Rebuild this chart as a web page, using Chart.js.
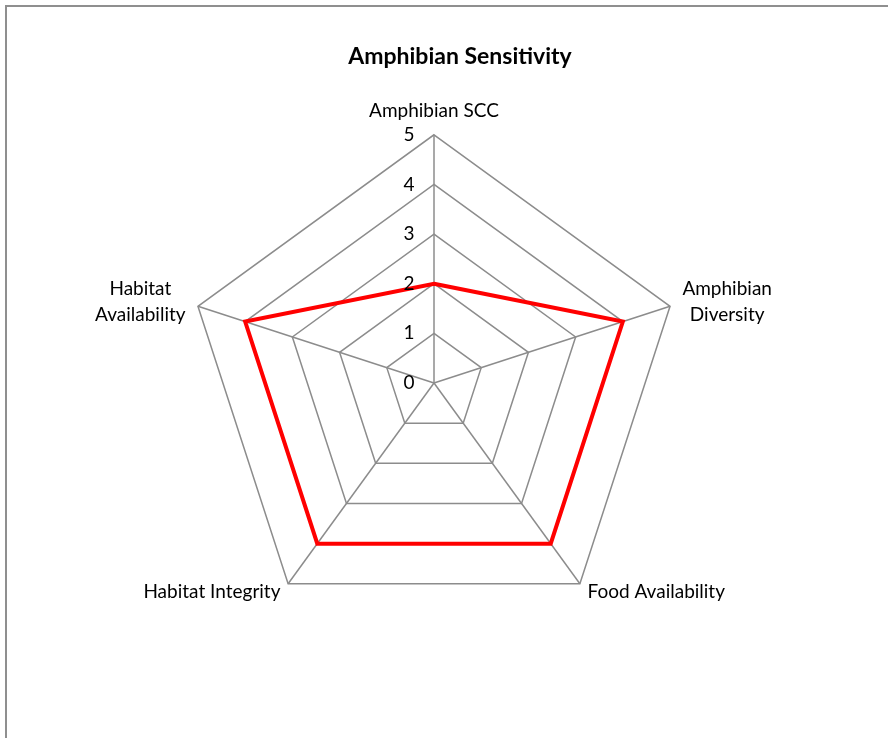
<!DOCTYPE html>
<html><head><meta charset="utf-8">
<script src="https://cdn.jsdelivr.net/npm/chart.js@4"></script>
<style>
html,body{margin:0;padding:0;background:#fff;}
#wrap{position:relative;width:888px;height:738px;overflow:hidden;}
#frame{position:absolute;left:5px;top:5px;right:-5px;bottom:-5px;border-left:2px solid #8f8f8f;border-top:2px solid #8f8f8f;}
canvas{position:absolute;left:0;top:0;}
</style></head>
<body><div id="wrap"><div id="frame"></div><canvas id="c" width="888" height="738"></canvas></div>
<script>
const categories = ['Amphibian SCC', ['Amphibian', 'Diversity'], 'Food Availability', 'Habitat Integrity', ['Habitat', 'Availability']];
const sensitivity = [2, 4, 4, 4, 4];
const tickValues = [0, 1, 2, 3, 4, 5];
const chartTitle = 'Amphibian Sensitivity';

const FONT = 'Lato, "Open Sans", sans-serif';

// Tick labels 0..5 to the left of the vertical axis (Excel style)
const tickPlugin = {
  id: 'tickLabels',
  afterDraw(chart) {
    const s = chart.scales.r, ctx = chart.ctx;
    ctx.save();
    ctx.font = '19px ' + FONT;
    ctx.fillStyle = '#000';
    ctx.textAlign = 'center';
    ctx.textBaseline = 'middle';
    tickValues.forEach(v => {
      const d = s.getDistanceFromCenterForValue(v);
      ctx.fillText(String(v), s.xCenter - 25, s.yCenter - d);
    });
    ctx.restore();
  }
};

// Excel-like label placement: side labels centered on their spoke, bottom labels raised
const labelPlugin = {
  id: 'labelPlacement',
  afterLayout(chart) {
    const s = chart.scales.r;
    const items = s._pointLabelItems || [];
    items.forEach((item, i) => {
      if (Array.isArray(categories[i])) {
        const h = item.bottom - item.top;
        item.y += h / 2; item.top += h / 2; item.bottom += h / 2;
        item.x = (item.left + item.right) / 2;
        item.textAlign = 'center';
      } else if (i > 0) {
        item.y -= 14; item.top -= 14; item.bottom -= 14;
      }
    });
    const t = chart.titleBlock;
    if (t) { t.left += 26; t.right += 26; }
  }
};

new Chart(document.getElementById('c'), {
  type: 'radar',
  data: {
    labels: categories,
    datasets: [{
      data: sensitivity,
      borderColor: '#ff0000',
      borderWidth: 4,
      fill: false,
      pointRadius: 0,
      pointHoverRadius: 0,
      tension: 0
    }]
  },
  options: {
    responsive: false,
    animation: false,
    layout: { padding: { left: 0, right: 20, top: 0, bottom: 88 } },
    plugins: {
      legend: { display: false },
      tooltip: { enabled: false },
      title: { display: true, text: chartTitle, color: '#000', font: { family: FONT, size: 23, weight: 'bold', lineHeight: 1.2 }, padding: { top: 43, bottom: 11.4 } }
    },
    scales: {
      r: {
        min: 0, max: 5,
        ticks: { display: false, stepSize: 1 },
        grid: { color: '#8c8c8c', lineWidth: 1.5 },
        angleLines: { color: '#8c8c8c', lineWidth: 1.5 },
        pointLabels: {
          color: '#000',
          padding: 13,
          font: (ctx) => ({ family: FONT, size: 19, lineHeight: Array.isArray(categories[ctx.index]) ? 1.36 : 1.2 })
        }
      }
    }
  },
  plugins: [tickPlugin, labelPlugin]
});
</script></body></html>
